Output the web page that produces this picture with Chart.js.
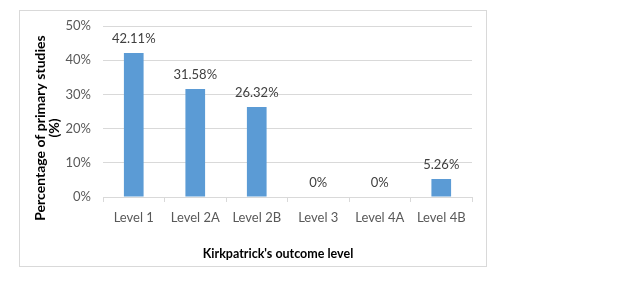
<!DOCTYPE html>
<html>
<head>
<meta charset="utf-8">
<script src="https://cdn.jsdelivr.net/npm/chart.js@4.4.0/dist/chart.umd.min.js"></script>
<style>
  html, body { margin: 0; padding: 0; background: #fff; }
  #wrap { position: relative; width: 620px; height: 282px; }
  #frame { position: absolute; left: 19px; top: 10px; width: 466px; height: 255px; border: 1px solid #d9d9d9; }
  canvas { position: absolute; left: 0; top: 0; }
</style>
</head>
<body>
<div id="wrap">
  <div id="frame"></div>
  <canvas id="chart" width="620" height="282"></canvas>
</div>
<script>
const categories = ["Level 1", "Level 2A", "Level 2B", "Level 3", "Level 4A", "Level 4B"]
const percentages = [42.11, 31.58, 26.32, 0, 0, 5.26]
const valueLabels = ["42.11%", "31.58%", "26.32%", "0%", "0%", "5.26%"]
const yTitle = ["Percentage of primary studies", "(%)"]
const xTitle = "Kirkpatrick's outcome level"

const FONT = "Lato, 'Open Sans', sans-serif"

// labels above bars + axis titles
const extras = {
  id: "extras",
  afterDatasetsDraw(chart) {
    const ctx = chart.ctx
    const meta = chart.getDatasetMeta(0)
    ctx.save()
    ctx.font = "13px " + FONT
    ctx.fillStyle = "#404040"
    ctx.textAlign = "center"
    ctx.textBaseline = "middle"
    meta.data.forEach((bar, i) => {
      ctx.fillText(valueLabels[i], bar.x, bar.y - 14)
    })

    ctx.fillStyle = "#000"
    ctx.font = "bold 12.5px " + FONT
    ctx.fillText(xTitle, 278, 254)

    ctx.font = "bold 14px " + FONT
    ctx.translate(0, 128)
    ctx.rotate(-Math.PI / 2)
    ctx.fillText(yTitle[0], 0, 40)
    ctx.fillText(yTitle[1], 0, 54)
    ctx.restore()
  }
}

new Chart(document.getElementById("chart"), {
  type: "bar",
  data: {
    labels: categories,
    datasets: [{
      data: percentages,
      backgroundColor: "#5b9bd5",
      categoryPercentage: 1,
      barPercentage: 0.32
    }]
  },
  options: {
    responsive: false,
    animation: false,
    layout: { padding: { left: 0, top: 26, right: 148, bottom: 0 } },
    plugins: { legend: { display: false }, tooltip: { enabled: false } },
    scales: {
      x: {
        afterFit: s => { s.height = 85 },
        grid: { offset: true, drawOnChartArea: false, color: "#d9d9d9", tickLength: 5 },
        border: { color: "#d9d9d9" },
        ticks: { color: "#595959", font: { family: FONT, size: 13 }, padding: 8 }
      },
      y: {
        min: 0,
        max: 50,
        afterFit: s => { s.width = 103 },
        grid: { color: "#d9d9d9", drawTicks: false },
        border: { display: false },
        ticks: {
          stepSize: 10,
          color: "#595959",
          font: { family: FONT, size: 13 },
          padding: 12,
          callback: v => v + "%"
        }
      }
    }
  },
  plugins: [extras]
})
</script>
</body>
</html>
